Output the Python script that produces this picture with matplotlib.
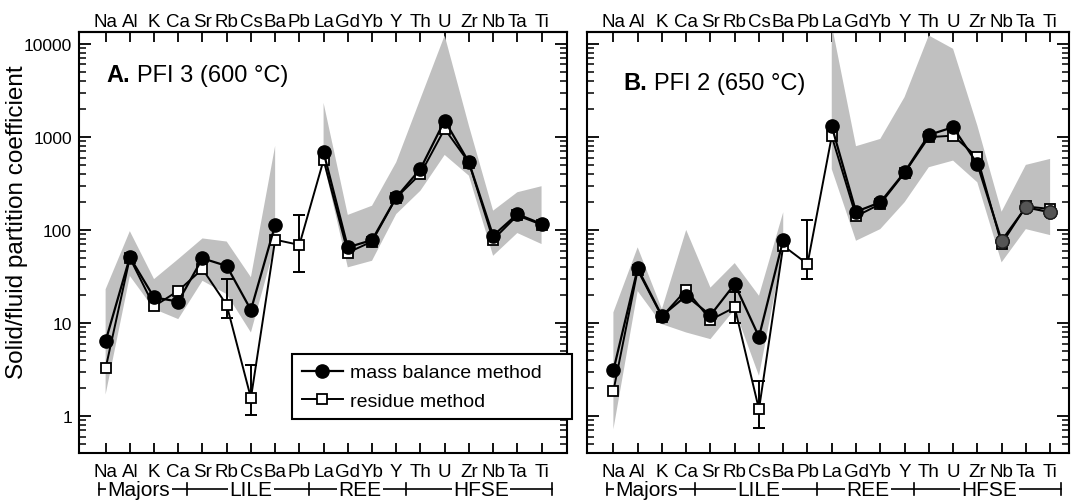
import numpy as np
import matplotlib
matplotlib.use("Agg")
import matplotlib.pyplot as plt
from matplotlib.ticker import LogLocator, NullFormatter
from matplotlib.lines import Line2D

plt.rcParams["font.family"] = ["Liberation Sans", "DejaVu Sans"]

nan = np.nan
elements = ["Na", "Al", "K", "Ca", "Sr", "Rb", "Cs", "Ba", "Pb", "La",
            "Gd", "Yb", "Y", "Th", "U", "Zr", "Nb", "Ta", "Ti"]
groups = ["Majors", "LILE", "REE", "HFSE"]
group_centers = [1.37, 6.0, 10.5, 15.5]
group_bounds = [-0.26, 3.35, 8.4, 12.4, 18.45]

# A. PFI 3 (600 C)
a_mass = [6.4, 51, 18.8, 17, 49.5, 41, 13.8, 113, nan, 684,
          65, 77.8, 224, 453, 1500, 534, 86.6, 148, 116]
a_resid = [3.26, 50, 15.1, 22.2, 38, 15.6, 1.56, 78.5, 69, 565,
           57, 75, 222, 400, 1219, 530, 78.5, 143, 114]
a_err_lo = [nan, nan, nan, nan, nan, 11.3, 1.02, nan, 35.5, nan,
            nan, nan, nan, nan, nan, nan, nan, nan, nan]
a_err_hi = [nan, nan, nan, nan, nan, 29.6, 3.5, nan, 146, nan,
            nan, nan, nan, nan, nan, nan, nan, nan, nan]
a_upper = [23, 97, 29.6, 48.6, 81, 75, 31, 800, nan, 2320,
           145, 182, 534, 2570, 12300, 1320, 161, 254, 295]
a_lower = [1.7, 32, 14.1, 11, 28.4, 20.4, 7.9, 70, nan, 534,
           39.6, 46.6, 148, 264, 640, 383, 52.7, 92.6, 70.5]

# B. PFI 2 (650 C)
b_mass = [3.1, 38.6, 11.9, 19.6, 12.1, 26.2, 7.1, 78.5, nan, 1300,
          157, 198, 417, 1050, 1271, 512, 76.5, 175, 155]
b_resid = [1.86, 37, 11.7, 22.7, 10.8, 14.7, 1.18, 67.6, 43, 1017,
           140, 190, 410, 993, 1032, 604, 70.5, 179, 168]
b_err_lo = [nan, nan, nan, nan, nan, 10, 0.75, nan, 30, nan,
            nan, nan, nan, nan, nan, nan, nan, nan, nan]
b_err_hi = [nan, nan, nan, nan, nan, 21.3, 2.38, nan, 129, nan,
            nan, nan, nan, nan, nan, nan, nan, nan, nan]
b_upper = [13, 65, 14.1, 100, 24, 44, 19.6, 155, nan, 16000,
           794, 951, 2675, 12300, 8850, 1324, 157, 500, 580]
b_lower = [0.72, 22, 9.7, 7.9, 6.7, 14, 2.7, 62, nan, 450,
           76.5, 102, 198, 472, 556, 325, 44.8, 102, 88]
# mass balance symbols drawn in grey in panel B
b_grey_pts = ["Nb", "Ta", "Ti"]

x = np.arange(len(elements))
GREY = "#c0c0c0"


def draw_panel(ax, mass, resid, lo, hi, upper, lower, grey_pts=()):
    mass, resid = np.array(mass, float), np.array(resid, float)
    lo, hi = np.array(lo, float), np.array(hi, float)
    ax.fill_between(x, lower, upper, color=GREY, lw=0, zorder=1)
    ok = ~np.isnan(lo)
    ax.errorbar(x[ok], resid[ok], yerr=[resid[ok] - lo[ok], hi[ok] - resid[ok]],
                fmt="none", ecolor="k", elinewidth=1.4, capsize=4.5, capthick=1.4, zorder=2)
    ax.plot(x, resid, "-s", color="k", lw=1.4, ms=7, mfc="white", mec="k", mew=1.3, zorder=3)
    ax.plot(x, mass, "-o", color="k", lw=1.6, ms=9.5, mfc="k", mec="k", zorder=4)
    gi = [elements.index(e) for e in grey_pts]
    if gi:
        ax.plot(x[gi], mass[gi], "o", ms=9.5, mfc="#555555", mec="#222222", mew=1, zorder=5)

    ax.set_yscale("log")
    ax.set_ylim(0.4, 13500)
    ax.set_xticks(x)
    ax.set_xticklabels(elements)
    ax.tick_params(axis="x", direction="in", length=7, width=1.3, labelsize=13.5, pad=7.5)
    top = ax.secondary_xaxis("top")
    top.set_xticks(x)
    top.set_xticklabels(elements)
    top.tick_params(axis="x", direction="in", length=7, width=1.3, labelsize=13.5, pad=1)
    top.spines["top"].set_linewidth(1.5)
    ax.set_yticks([1, 10, 100, 1000, 10000])
    ax.set_yticklabels(["1", "10", "100", "1000", "10000"])
    ax.yaxis.set_minor_locator(LogLocator(base=10, subs=np.arange(2, 10), numticks=20))
    ax.yaxis.set_minor_formatter(NullFormatter())
    ax.tick_params(axis="y", which="major", direction="in", right=True, length=8.5, width=1.3,
                   labelsize=12.5, pad=5)
    ax.tick_params(axis="y", which="minor", direction="in", right=True, length=5, width=1.1)
    for s in ax.spines.values():
        s.set_linewidth(1.5)

    # element group bracket under the axis
    tr = ax.get_xaxis_transform()
    yb = -0.0855
    ax.plot([group_bounds[0], group_bounds[-1]], [yb, yb], color="k", lw=1.2,
            transform=tr, clip_on=False)
    for xb in group_bounds:
        ax.plot([xb, xb], [yb - 0.015, yb + 0.015], color="k", lw=1.2,
                transform=tr, clip_on=False)
    for name, xc in zip(groups, group_centers):
        ax.text(xc, -0.1, name, transform=tr, ha="center", va="baseline", fontsize=15,
                bbox=dict(fc="white", ec="none", pad=1.0), zorder=6)


fig = plt.figure(figsize=(10.73, 5.02), dpi=100)
axA = fig.add_axes([0.0736, 0.0956, 0.4548, 0.8392])
axB = fig.add_axes([0.5468, 0.0956, 0.4495, 0.8392])

draw_panel(axA, a_mass, a_resid, a_err_lo, a_err_hi, a_upper, a_lower)
draw_panel(axB, b_mass, b_resid, b_err_lo, b_err_hi, b_upper, b_lower, b_grey_pts)
axA.set_xlim(-1.1, 19.05)
axB.set_xlim(-1.1, 18.78)
axB.tick_params(axis="y", labelleft=False)

axA.set_ylabel("Solid/fluid partition coefficient", fontsize=17.5)
axA.yaxis.set_label_coords(-0.105, 0.551)

for ax, letter, rest, (tx, ty) in [(axA, "A.", "PFI 3 (600 °C)", (0.057, 0.884)),
                                   (axB, "B.", "PFI 2 (650 °C)", (0.076, 0.864))]:
    t = ax.text(tx, ty, letter, transform=ax.transAxes, fontsize=17, fontweight="bold",
                va="baseline", ha="left")
    ax.annotate(rest, xy=(1, 0), xycoords=t, xytext=(5, 0), textcoords="offset points",
                fontsize=17, va="bottom", ha="left")

handles = [Line2D([], [], color="k", lw=1.6, marker="o", ms=9.5, mfc="k"),
           Line2D([], [], color="k", lw=1.4, marker="s", ms=7, mfc="white", mew=1.3)]
leg = axA.legend(handles, ["mass balance method", "residue method"], fontsize=14,
                 loc="upper left", bbox_to_anchor=(0.4365, 0.0617, 0.5738, 0.1733),
                 mode="expand", borderaxespad=0, fancybox=False, framealpha=1,
                 edgecolor="k", handlelength=2.1, handletextpad=0.4, labelspacing=0.55,
                 borderpad=0.5)
leg.get_frame().set_linewidth(1.5)
leg.set_zorder(10)

fig.savefig("out.png", dpi=100)
